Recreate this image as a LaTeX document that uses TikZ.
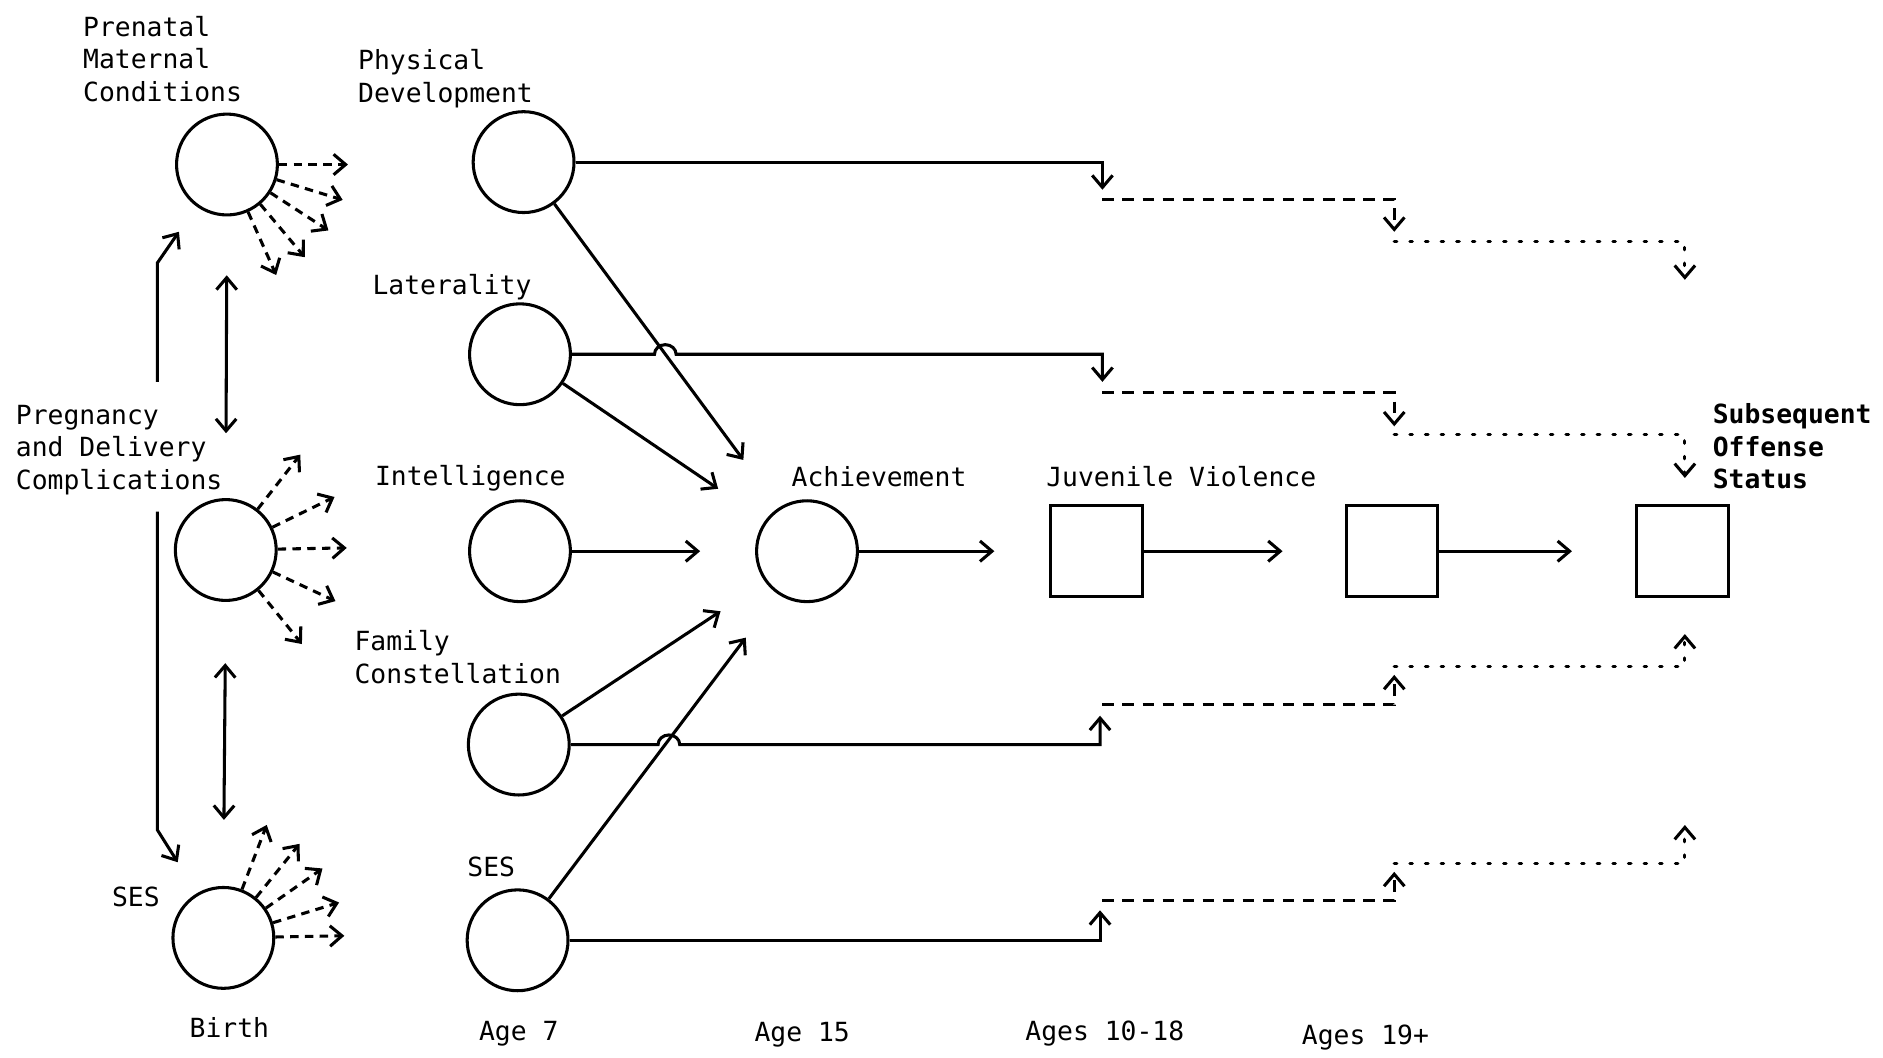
\documentclass[tikz,border=0pt]{standalone}
\usepackage{fontspec}
\setmonofont{DejaVu Sans Mono}
\usetikzlibrary{arrows.meta}

\begin{document}
\begin{tikzpicture}[
  x=0.02cm, y=-0.02cm,
  line width=1.45pt,
  >={Straight Barb[length=2mm,width=3.4mm]},
  font=\ttfamily\fontsize{12.5}{15.4}\selectfont,
  var/.style={draw, circle, minimum size=1.68cm, inner sep=0pt},
  outc/.style={draw, rectangle, minimum size=1.52cm, inner sep=0pt},
  lbl/.style={anchor=north west, align=left, inner sep=0pt},
  agelbl/.style={anchor=north, inner sep=0pt},
  dsh/.style={dash pattern=on 5.5pt off 4pt},
  dts/.style={dash pattern=on 1.2pt off 6.2pt, line cap=round},
  ray/.style={->, dash pattern=on 4pt off 3pt}
]
  \useasboundingbox (0,0) rectangle (1568,881);

  % Variablen (Kreise) und Ergebnisse (Quadrate)
  \node[var] (prenat) at (189,137) {};
  \node[var] (pdc) at (188,458) {};
  \node[var] (ses0) at (186,781) {};
  \node[var] (phys) at (436,135) {};
  \node[var] (lat) at (433,295) {};
  \node[var] (intel) at (433,459) {};
  \node[var] (fam) at (432,620) {};
  \node[var] (ses7) at (431,783) {};
  \node[var] (achv) at (672,459) {};
  \node[outc] (juv) at (913,459) {};
  \node[outc] (adult) at (1159,459) {};
  \node[outc] (subs) at (1401,459) {};

  % Beschriftungen
  \node[lbl] (lPrenat) at (68,12) {Prenatal\\Maternal\\Conditions};
  \node[lbl] (lPhys) at (297,40) {Physical\\Development};
  \node[lbl] (lLat) at (309,227) {Laterality};
  \node[lbl] (lPdc) at (12,336) {Pregnancy\\and Delivery\\Complications};
  \node[lbl] (lIntel) at (311,386) {Intelligence};
  \node[lbl] (lFam) at (294,524) {Family\\Constellation};
  \node[lbl] (lSes0) at (92,737) {SES};
  \node[lbl] (lSes7) at (388,712) {SES};
  \node[lbl] (lAchv) at (658,387) {Achievement};
  \node[lbl] (lJuv) at (870,387) {Juvenile Violence};
  \node[lbl, font=\ttfamily\bfseries\fontsize{12.5}{15.4}\selectfont] (lSubs) at (1425,335) {Subsequent\\Offense\\Status};
  \node[agelbl] (aBirth) at (191,846) {Birth};
  \node[agelbl] (a7) at (432,849) {Age 7};
  \node[agelbl] (a15) at (668,850) {Age 15};
  \node[agelbl] (a1018) at (920,849) {Ages 10-18};
  \node[agelbl] (a19) at (1137,852) {Ages 19+};

  % freie Enden
  \coordinate (forkUp) at (131,318);
  \coordinate (forkDn) at (131,426);
  \coordinate (prenIn) at (149,193);
  \coordinate (sesIn) at (148,718);
  \coordinate (physIn) at (619,383);
  \coordinate (latIn) at (598,407);
  \coordinate (intelIn) at (583,459);
  \coordinate (famIn) at (600,509);
  \coordinate (ses7In) at (621,531);
  \coordinate (achvOut) at (828,459);
  \coordinate (juvOut) at (1068,459);
  \coordinate (adultOut) at (1309,459);

  % Geburt
  \draw[<->, shorten <=0.98cm, shorten >=1.08cm] (prenat.south) -- (pdc.north);
  \draw[<->, shorten <=1.02cm, shorten >=1.1cm] (pdc.south) -- (ses0.north);
  \draw[->] (forkUp) -- ++(0,-99) -- (prenIn);
  \draw[->] (forkDn) -- ++(0,265) -- (sesIn);
  \foreach \a in {0,343,327,310,294} \draw[ray] (prenat.\a) -- ++(\a:1.15cm);
  \foreach \a in {52,26,1,335,309} \draw[ray] (pdc.\a) -- ++(\a:1.15cm);
  \foreach \a in {69,51,35,17,1} \draw[ray] (ses0.\a) -- ++(\a:1.15cm);

  % Alter 7 -> Alter 15
  \draw[->] (phys) -- (physIn);
  \draw[->] (lat) -- (latIn);
  \draw[->] (intel) -- (intelIn);
  \draw[->] (fam) -- (famIn);
  \draw[->] (ses7) -- (ses7In);
  \draw[->] (achv) -- (achvOut);
  \draw[->] (juv) -- (juvOut);
  \draw[->] (adult) -- (adultOut);

  % direkte Pfade zu den Ergebnissen
  \coordinate (phys-t) at (918,158);
  \coordinate (lat-t) at (918,318);
  \coordinate (fam-t) at (916,596);
  \coordinate (ses7-t) at (916,758);
  \draw[->] (phys.east) -| (phys-t);
  \draw[->] (lat.east) -- (545,295) arc[start angle=180, end angle=0, x radius=0.18cm, y radius=0.16cm] -| (lat-t);
  \draw[->] (fam.east) -- (548,620) arc[start angle=180, end angle=0, x radius=0.18cm, y radius=0.16cm] -| (fam-t);
  \draw[->] (ses7.east) -| (ses7-t);

  \foreach \r/\ya/\yb/\yc/\yd in {phys/166/193/201/233, lat/327/355/362/398, fam/587/562/555/528, ses7/750/726/719/687} {
    \coordinate (\r-a) at (918,\ya);
    \coordinate (\r-b) at (1161,\yb);
    \coordinate (\r-c) at (1161,\yc);
    \coordinate (\r-d) at (1403,\yd);
    \draw[dsh, ->] (\r-a) -| (\r-b);
    \draw[dts, ->] (\r-c) -| (\r-d);
  }

\end{tikzpicture}
\end{document}
